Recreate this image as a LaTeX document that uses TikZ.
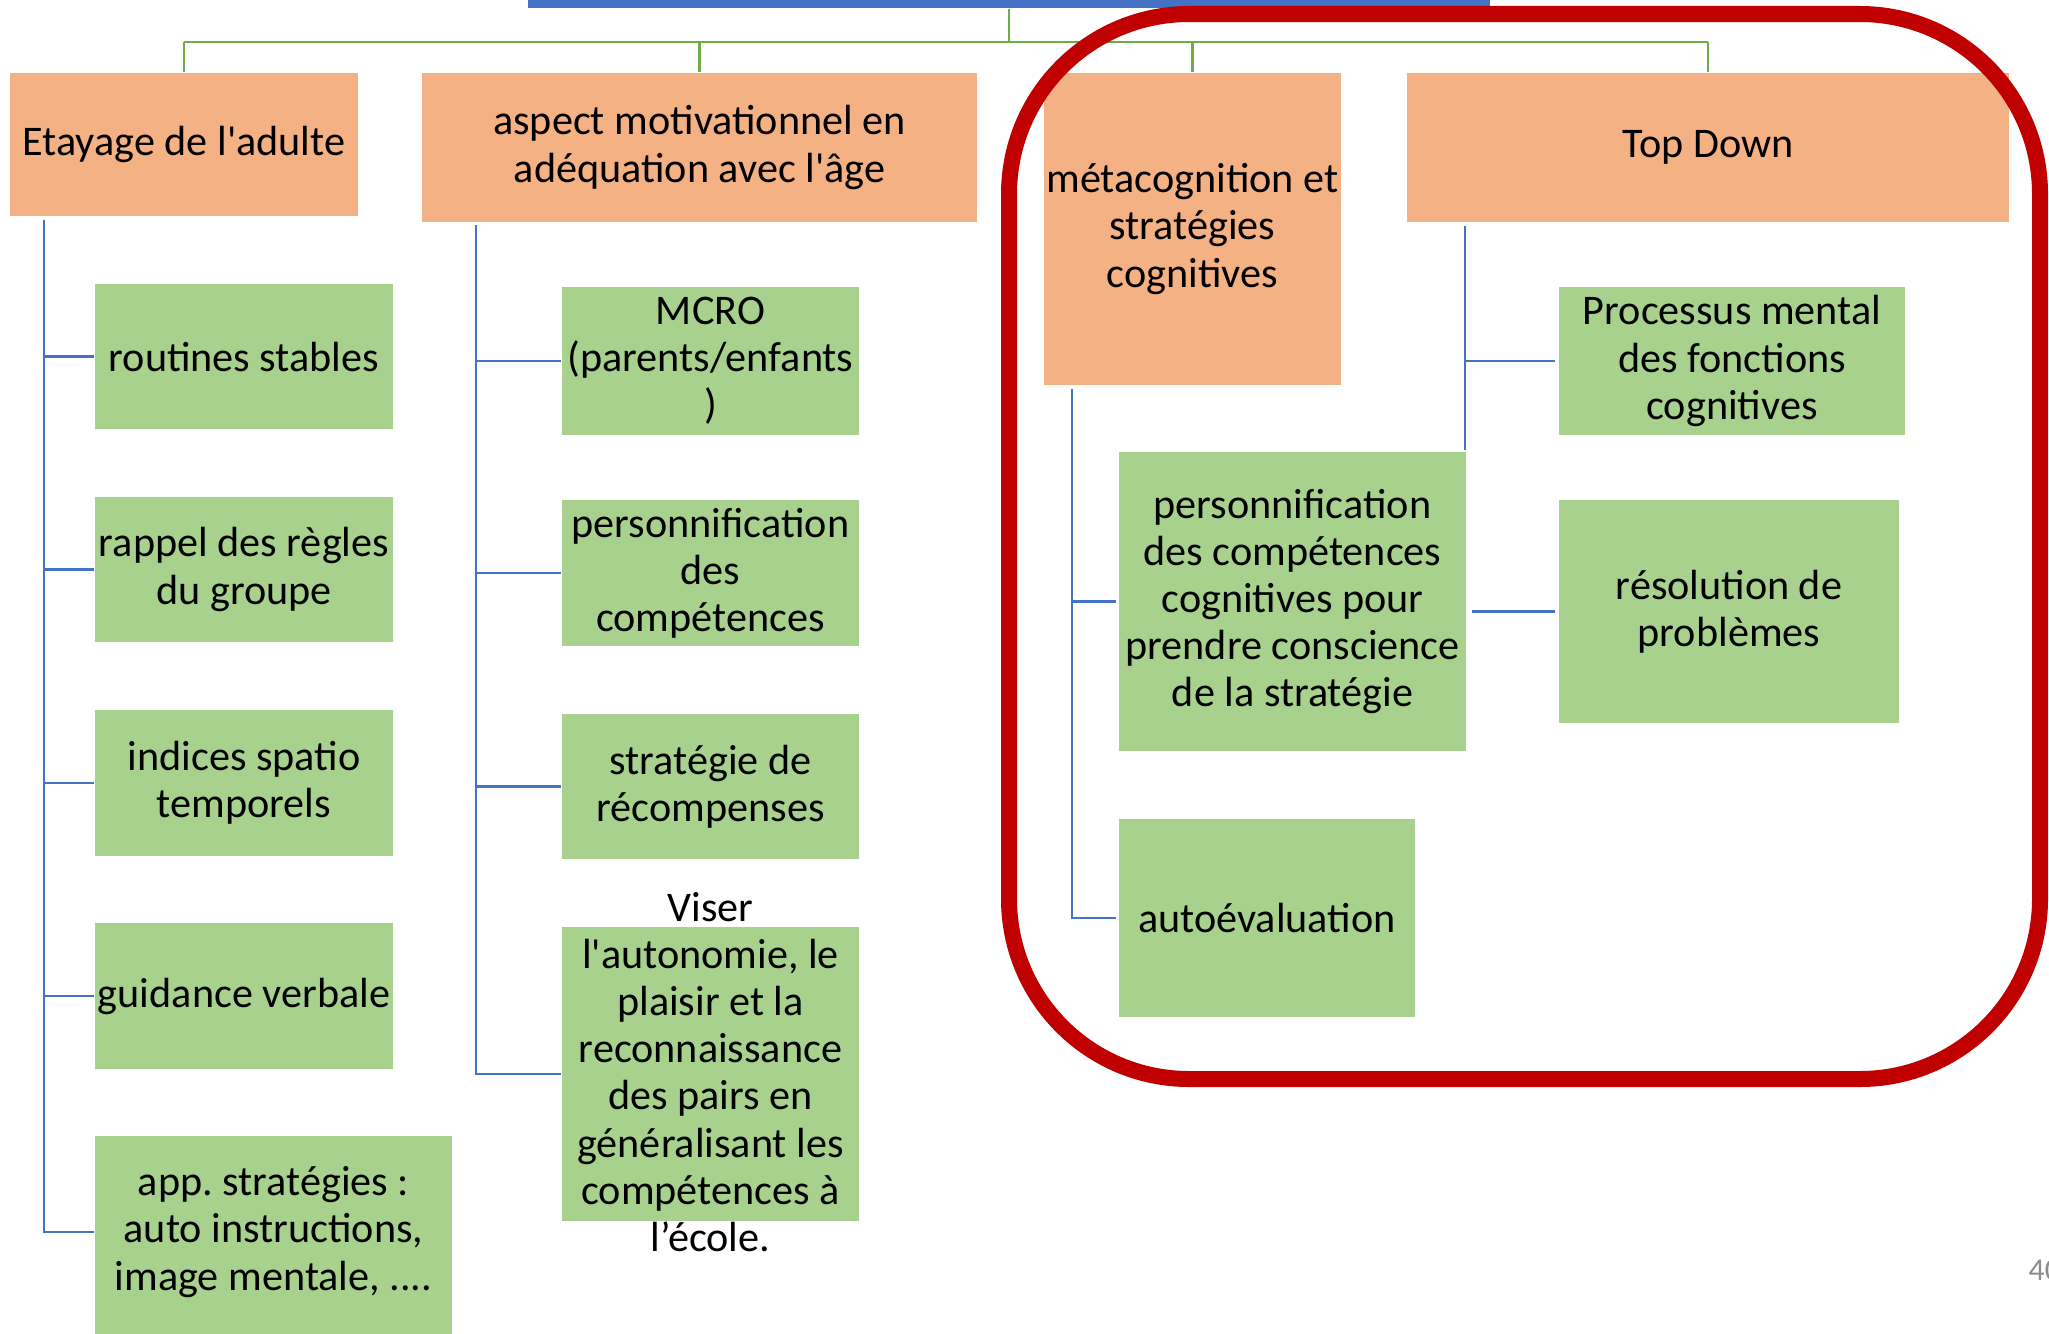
\documentclass[tikz,border=0pt]{standalone}
\usepackage{fontspec}
\setmainfont{Carlito}[Ligatures=TeXOff]
\usetikzlibrary{calc}
\definecolor{orangebox}{HTML}{F4B183}
\definecolor{greenbox}{HTML}{A9D18E}
\definecolor{blueline}{HTML}{4472C4}
\definecolor{greenline}{HTML}{70AD47}
\definecolor{redframe}{HTML}{C00000}
\definecolor{pagegray}{HTML}{8C8C8C}
\begin{document}
\frenchspacing
\begin{tikzpicture}[x=0.01cm,y=-0.01cm,
 font=\fontsize{12pt}{13.4pt}\selectfont,
 obox/.style={fill=orangebox, inner sep=0pt, align=center},
 gbox/.style={fill=greenbox, inner sep=0pt, align=center},
 txt/.style={inner sep=0pt, align=center},
 bline/.style={draw=blueline, line width=0.8pt},
 gline/.style={draw=greenline, line width=0.8pt},
 frame/.style={draw=redframe, line width=0.16cm, rounded corners=1.8cm},
]
\useasboundingbox (0,0) rectangle (2049,1333);
\clip (0,0) rectangle (2049,1333);

% top bar
\node[fill=blueline, inner sep=0pt, minimum width=9.62cm, minimum height=0.28cm] (top) at (1009,-6) {};

% orange headers
\node[obox, minimum width=3.48cm, minimum height=1.43cm] (E1) at (184,144.5) {Etayage de l'adulte};
\node[obox, minimum width=5.55cm, minimum height=1.49cm] (A2) at (699.5,147.5) {aspect motivationnel en\\adéquation avec l'âge};
\node[obox, minimum width=2.97cm, minimum height=3.12cm] (M3) at (1192.5,229) {métacognition et\\stratégies\\cognitives};
\node[obox, minimum width=6.02cm, minimum height=1.49cm] (T4) at (1708,147.5) {Top Down};

% column 1
\node[gbox, minimum width=2.98cm, minimum height=1.45cm] (r1) at (244,356.5) {routines stables};
\node[gbox, minimum width=2.98cm, minimum height=1.45cm] (r2) at (244,569.5) {rappel des règles\\du groupe};
\node[gbox, minimum width=2.98cm, minimum height=1.46cm] (r3) at (244,783) {indices spatio\\temporels};
\node[gbox, minimum width=2.98cm, minimum height=1.46cm] (r4) at (244,996) {guidance verbale};
\node[gbox, minimum width=3.57cm, minimum height=2.10cm] (r5) at (273.5,1241) {};
\node[txt] (r5t) at (273.5,1232) {app. stratégies :\\auto instructions,\\image mentale, ....};

% column 2
\node[gbox, minimum width=2.97cm, minimum height=1.48cm] (m1) at (710.5,361) {MCRO\\(parents/enfants\\)};
\node[gbox, minimum width=2.97cm, minimum height=1.46cm] (m2) at (710.5,573) {personnification\\des\\compétences};
\node[gbox, minimum width=2.97cm, minimum height=1.45cm] (m3) at (710.5,786.5) {stratégie de\\récompenses};
\node[gbox, minimum width=2.97cm, minimum height=2.94cm] (m4) at (710.5,1074) {};
\node[txt] (m4t) at (710.5,1072) {Viser\\l'autonomie, le\\plaisir et la\\reconnaissance\\des pairs en\\généralisant les\\compétences à\\l’école.};

% column 3
\node[gbox, minimum width=3.47cm, minimum height=2.99cm] (p1) at (1292.5,601.5) {personnification\\des compétences\\cognitives pour\\prendre conscience\\de la stratégie};
\node[gbox, minimum width=2.96cm, minimum height=1.98cm] (p2) at (1267,918) {autoévaluation};

% column 4
\node[gbox, minimum width=3.46cm, minimum height=1.48cm] (q1) at (1732,361) {Processus mental\\des fonctions\\cognitives};
\node[gbox, minimum width=3.40cm, minimum height=2.23cm] (q2) at (1729,611.5) {résolution de\\problèmes};

% green connectors
\coordinate (bus) at (1009,42);
\draw[gline] (top.south) -- (bus);
\draw[gline] (E1.north |- bus) -- (T4.north |- bus);
\draw[gline] (E1.north |- bus) -- (E1.north);
\draw[gline] (A2.north |- bus) -- (A2.north);
\draw[gline] (M3.north |- bus) -- (M3.north);
\draw[gline] (T4.north |- bus) -- (T4.north);

% blue connectors column 1
\coordinate (t1) at (44,220);
\draw[bline] (t1) |- (r5.west |- r5t);
\draw[bline] (t1 |- r1.west) -- (r1.west);
\draw[bline] (t1 |- r2.west) -- (r2.west);
\draw[bline] (t1 |- r3.west) -- (r3.west);
\draw[bline] (t1 |- r4.west) -- (r4.west);

% column 2
\coordinate (t2) at (476,225);
\draw[bline] (t2) |- (m4.west);
\draw[bline] (t2 |- m1.west) -- (m1.west);
\draw[bline] (t2 |- m2.west) -- (m2.west);
\draw[bline] (t2 |- m3.west) -- (m3.west);

% column 3
\coordinate (t3) at (1072,389);
\draw[bline] (t3) |- ([xshift=-0.02cm]p2.west);
\draw[bline] (t3 |- p1.west) -- ([xshift=-0.02cm]p1.west);

% column 4
\coordinate (t4) at (1465,226);
\coordinate (t4e) at (1465,450);
\draw[bline] (t4) -- (t4e);
\draw[bline] (t4 |- q1.west) -- ([xshift=-0.03cm]q1.west);
\draw[bline] ([xshift=0.05cm]p1.east |- q2.west) -- ([xshift=-0.03cm]q2.west);

% red frame
\draw[frame] (1009,14) rectangle (2040,1079);

% page number
\node[text=pagegray, font=\fontsize{9pt}{10pt}\selectfont, anchor=west, inner sep=0pt] (pg) at (2028,1270) {40};
\end{tikzpicture}
\end{document}
